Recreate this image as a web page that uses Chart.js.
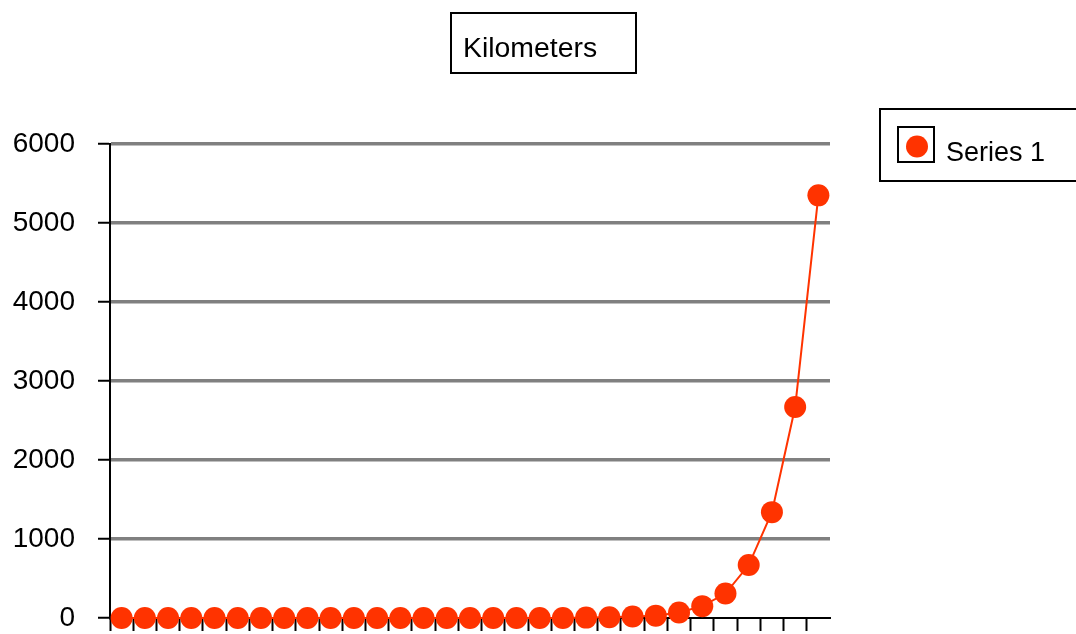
<!DOCTYPE html>
<html>
<head>
<meta charset="utf-8">
<title>Kilometers</title>
<script src="https://cdn.jsdelivr.net/npm/chart.js@4.4.1/dist/chart.umd.min.js"></script>
<style>
  html, body { margin: 0; padding: 0; background: #fff; }
  #wrap { width: 1076px; height: 634px; }
</style>
</head>
<body>
<div id="wrap"><canvas id="kmChart" width="1076" height="634"></canvas></div>
<script>
// chart data
const chartTitle = 'Kilometers';
const seriesName = 'Series 1';
const categories = [
  '1', '2', '3', '4', '5', '6', '7', '8', '9', '10',
  '11', '12', '13', '14', '15', '16', '17', '18', '19', '20',
  '21', '22', '23', '24', '25', '26', '27', '28', '29', '30', '31'
];
const kilometers = [
  0, 0, 0, 0, 0, 0, 0, 0, 0, 0,
  0, 0, 0, 0, 0, 0, 0, 0, 0, 0,
  5, 10, 20, 30, 70, 150, 310, 670, 1340, 2670, 5350
];
const yTicks = [0, 1000, 2000, 3000, 4000, 5000, 6000];

const red = '#ff3300';
const fontFamily = '"Liberation Sans", Arial, Helvetica, sans-serif';

// draws the boxed title and the boxed legend
const boxesPlugin = {
  id: 'boxes',
  afterDraw(chart) {
    const c = chart.ctx;
    c.save();
    c.strokeStyle = '#000';
    c.lineWidth = 2;
    c.fillStyle = '#000';
    c.textBaseline = 'alphabetic';
    c.textAlign = 'left';

    // title
    c.font = '28.4px ' + fontFamily;
    c.strokeRect(451, 13, 185, 60);
    c.fillText(chartTitle, 463, 57);

    // legend
    c.font = '27px ' + fontFamily;
    c.strokeRect(880, 109, 210, 72);
    c.strokeRect(898, 127, 36, 35);
    c.beginPath();
    c.arc(917, 146.5, 11, 0, Math.PI * 2);
    c.fillStyle = chart.data.datasets[0].pointBackgroundColor;
    c.fill();
    c.fillStyle = '#000';
    c.fillText(chart.data.datasets[0].label, 946, 161);
    c.restore();
  }
};

const ctx = document.getElementById('kmChart');
new Chart(ctx, {
  type: 'line',
  data: {
    labels: categories,
    datasets: [{
      label: seriesName,
      data: kilometers,
      borderColor: red,
      borderWidth: 2,
      pointRadius: 11,
      pointHoverRadius: 11,
      pointBackgroundColor: red,
      pointBorderWidth: 0,
      tension: 0,
      clip: false
    }]
  },
  options: {
    responsive: false,
    animation: false,
    layout: { padding: { top: 144, right: 246, left: 0, bottom: 0 } },
    plugins: {
      legend: { display: false },
      title: { display: false },
      tooltip: { enabled: false }
    },
    scales: {
      x: {
        type: 'category',
        offset: true,
        z: 1,
        grid: {
          offset: true,
          drawOnChartArea: false,
          drawTicks: true,
          tickLength: 13,
          tickWidth: 2,
          tickColor: (c) => c.index === undefined ? 'rgba(0,0,0,0)' : '#000'
        },
        border: { display: true, color: '#000', width: 2 },
        ticks: { display: false },
        afterFit(scale) {
          scale.height = 16;
          scale.paddingLeft = 0;
          scale.paddingRight = 0;
        }
      },
      y: {
        min: 0,
        max: 6000,
        afterBuildTicks(scale) { scale.ticks = yTicks.map(v => ({ value: v })); },
        grid: {
          color: (c) => (c.tick && c.tick.value === 0) ? 'rgba(0,0,0,0)' : '#808080',
          lineWidth: 3.5,
          tickColor: '#000',
          tickWidth: 2,
          tickLength: 12
        },
        border: { display: true, color: '#000', width: 2 },
        ticks: {
          color: '#000',
          padding: 23,
          font: { family: fontFamily, size: 28 },
          callback: (v) => String(v)
        },
        afterFit(scale) {
          scale.width = 110;
          scale.paddingTop = 0;
          scale.paddingBottom = 0;
        }
      }
    }
  },
  plugins: [boxesPlugin]
});
</script>
</body>
</html>
